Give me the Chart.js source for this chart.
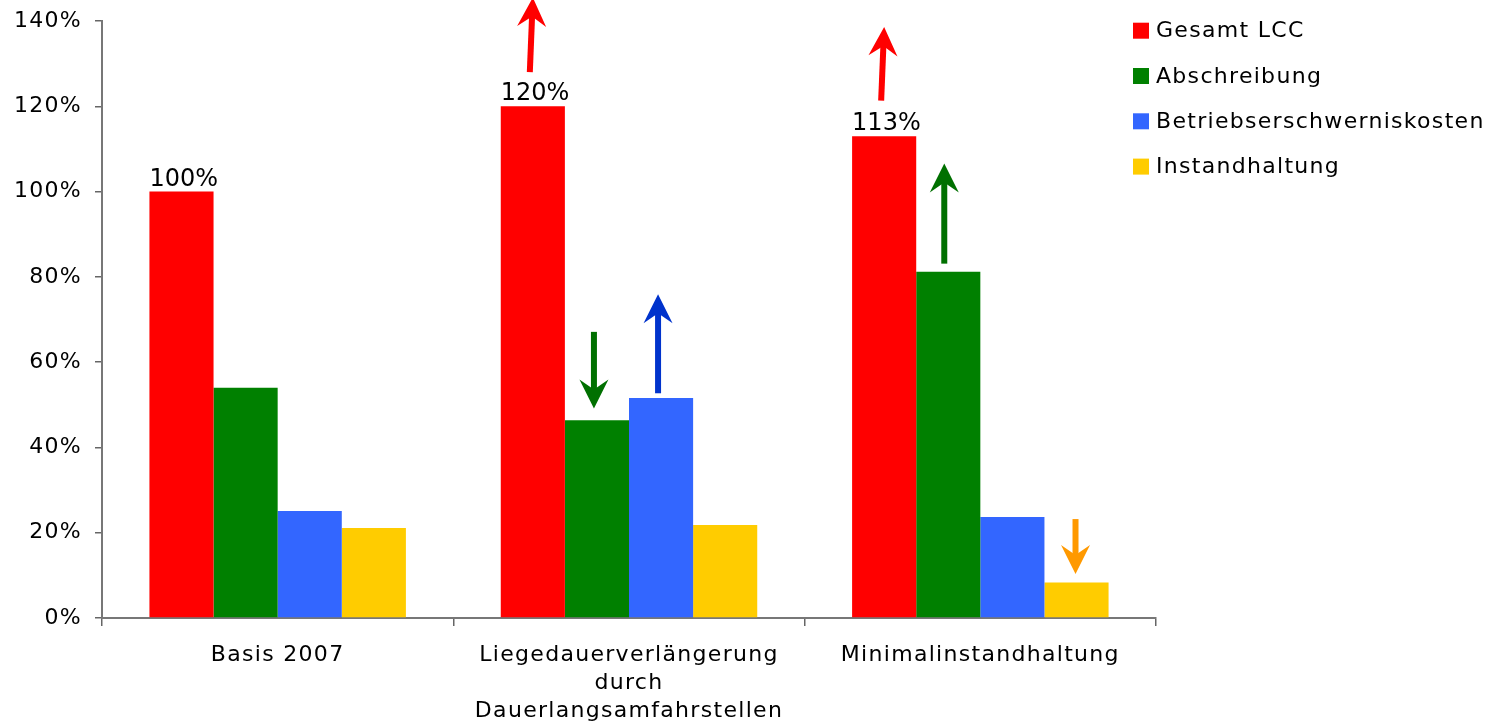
<!DOCTYPE html>
<html><head><meta charset="utf-8">
<script src="https://cdn.jsdelivr.net/npm/chart.js@4.4.1/dist/chart.umd.min.js"></script>
<style>html,body{margin:0;padding:0;background:#fff}#wrap{width:1503px;height:725px}</style>
</head><body><div id="wrap"><canvas id="c"></canvas></div>
<script>
// ---- data ----
const categories = ['Basis 2007', ['Liegedauerverlängerung', 'durch', 'Dauerlangsamfahrstellen'], 'Minimalinstandhaltung'];
const seriesNames = ['Gesamt LCC', 'Abschreibung', 'Betriebserschwerniskosten', 'Instandhaltung'];
const gesamtLCC = [100, 120, 113];
const abschreibung = [54, 46.4, 81.2];
const betriebserschwerniskosten = [25.1, 51.6, 23.7];
const instandhaltung = [21.1, 21.8, 8.3];
const yTicks = [0, 20, 40, 60, 80, 100, 120, 140];
const valueLabels = ['100%', '120%', '113%'];
// arrows, in value units: category, series, from value, to value
const arrowCategory = [1, 2, 1, 1, 2, 2];
const arrowSeries = [0, 0, 1, 2, 1, 3];
const arrowFrom = [128, 121.3, 67.1, 52.7, 83.1, 23.2];
const arrowTo = [145.5, 138.6, 49.1, 75.9, 106.6, 10.3];

// ---- style ----
const seriesColors = ['#FF0000', '#008000', '#3366FF', '#FFCC00'];
const arrowColors = ['#FF0000', '#FF0000', '#007000', '#0033CC', '#007000', '#FF9900'];
const arrowTailDx = [-3, -3, -3, -3, -4, -1];
const arrowTipDx = [0, 0, -3, -3, -4, -1];
const FONT = '"DejaVu Sans", Verdana, sans-serif';
const SPACING = '1.3px';
const AXIS = '#777';

function drawArrow(ctx, x0, y0, x1, y1, color) {
  const L = 29, W = 14.5, N = 19, sw = 6;
  const ang = Math.atan2(y1 - y0, x1 - x0);
  const ux = Math.cos(ang), uy = Math.sin(ang);
  const px = -uy, py = ux;
  ctx.strokeStyle = color; ctx.lineWidth = sw; ctx.lineCap = 'butt';
  ctx.beginPath(); ctx.moveTo(x0, y0); ctx.lineTo(x1 - ux * (N - 2), y1 - uy * (N - 2)); ctx.stroke();
  ctx.fillStyle = color;
  ctx.beginPath();
  ctx.moveTo(x1, y1);
  ctx.lineTo(x1 - ux * L + px * W, y1 - uy * L + py * W);
  ctx.lineTo(x1 - ux * N, y1 - uy * N);
  ctx.lineTo(x1 - ux * L - px * W, y1 - uy * L - py * W);
  ctx.closePath(); ctx.fill();
}

const deco = {
  id: 'deco',
  beforeLayout(c) { c.ctx.letterSpacing = SPACING; },
  beforeDraw(c) { c.ctx.letterSpacing = SPACING; },
  afterDraw(c) {
    const ctx = c.ctx, ys = c.scales.y;
    ctx.save();
    // value labels above the red bars
    ctx.letterSpacing = '0px';
    ctx.font = '24px ' + FONT;
    ctx.fillStyle = '#000'; ctx.textAlign = 'left'; ctx.textBaseline = 'alphabetic';
    c.getDatasetMeta(0).data.forEach((b, i) => {
      ctx.fillText(valueLabels[i], b.x - b.width / 2, b.y - 6);
    });
    // arrows
    arrowCategory.forEach((ci, k) => {
      const bar = c.getDatasetMeta(arrowSeries[k]).data[ci];
      drawArrow(ctx, bar.x + arrowTailDx[k], ys.getPixelForValue(arrowFrom[k]),
        bar.x + arrowTipDx[k], ys.getPixelForValue(arrowTo[k]), arrowColors[k]);
    });
    // legend
    ctx.letterSpacing = SPACING;
    ctx.font = '22px ' + FONT;
    ctx.textBaseline = 'middle'; ctx.textAlign = 'left';
    const lx = 1133;
    c.data.datasets.forEach((d, i) => {
      const cy = 30.7 + i * 45.3;
      ctx.fillStyle = d.backgroundColor;
      ctx.fillRect(lx, cy - 8, 16, 16);
      ctx.fillStyle = '#000';
      ctx.fillText(d.label, lx + 23, cy + 1);
    });
    ctx.restore();
  }
};

const seriesValues = [gesamtLCC, abschreibung, betriebserschwerniskosten, instandhaltung];
new Chart(document.getElementById('c'), {
  type: 'bar',
  data: {
    labels: categories,
    datasets: seriesNames.map((n, i) => ({
      label: n, data: seriesValues[i], backgroundColor: seriesColors[i],
      borderWidth: 0, categoryPercentage: 0.73, barPercentage: 1
    }))
  },
  options: {
    responsive: true, maintainAspectRatio: false, animation: false,
    devicePixelRatio: 1,
    layout: { padding: { top: 21, right: 347, left: 0, bottom: 0 } },
    plugins: { legend: { display: false }, tooltip: { enabled: false } },
    scales: {
      x: {
        grid: { offset: true, drawOnChartArea: false, drawTicks: true, tickLength: 8, color: '#666', lineWidth: 1.5 },
        border: { display: true, color: AXIS, width: 2 },
        ticks: { color: '#000', font: { family: FONT, size: 22, lineHeight: 1.273 }, padding: 15, maxRotation: 0, autoSkip: false },
        afterFit(s) { s.height = 107; s.paddingLeft = 0; s.paddingRight = 0; }
      },
      y: {
        min: 0, max: 140,
        grid: { drawOnChartArea: false, drawTicks: true, tickLength: 7, color: '#666', lineWidth: 1.5 },
        border: { display: true, color: AXIS, width: 2 },
        afterBuildTicks(s) { s.ticks = yTicks.map(v => ({ value: v })); },
        ticks: { color: '#000', font: { family: FONT, size: 22 }, padding: 13, callback: v => v + '%' },
        afterFit(s) { s.width = 102; s.paddingTop = 0; s.paddingBottom = 0; }
      }
    }
  },
  plugins: [deco]
});
</script>
</body></html>
